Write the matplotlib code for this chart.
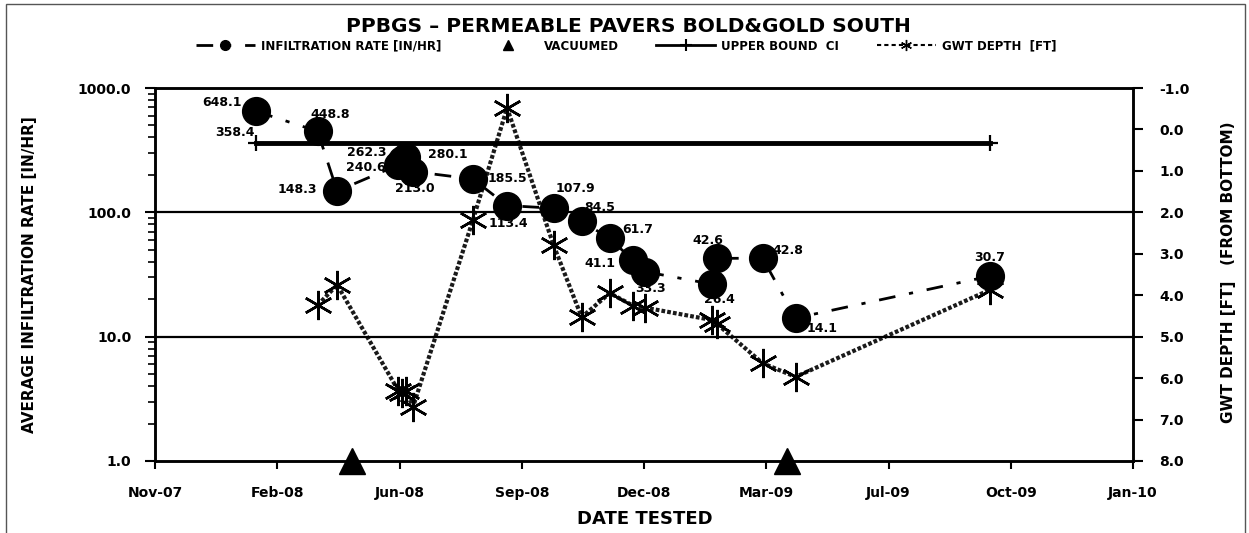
import numpy as np
import matplotlib
matplotlib.use("Agg")
import matplotlib.pyplot as plt
import matplotlib.dates as mdates
from matplotlib.lines import Line2D
from matplotlib.patches import Rectangle
from matplotlib.ticker import FixedLocator, FuncFormatter, LogLocator, NullFormatter

plt.rcParams['font.family'] = ['DejaVu Sans']
plt.rcParams['axes.unicode_minus'] = False

# ---------------- data ----------------
infil_dates = ["2008-02-05", "2008-03-26", "2008-04-11", "2008-05-31", "2008-06-03",
               "2008-06-06", "2008-06-12", "2008-07-31", "2008-08-28", "2008-10-05",
               "2008-10-28", "2008-11-20", "2008-12-09", "2008-12-19", "2009-02-12",
               "2009-02-16", "2009-03-25", "2009-04-21", "2009-09-27"]
infil_rate = [648.1, 448.8, 148.3, 240.6, 262.3, 280.1, 213.0, 185.5, 113.4, 107.9,
              84.5, 61.7, 41.1, 33.3, 26.4, 42.6, 42.8, 14.1, 30.7]
# data-label offsets (pixels) and alignment
lbl_dx = [-15, -7, -20, -13, -15, 22, -18, 15, -19, 2, 3, 12, -18, -10, -8, -25, 10, 11, 0]
lbl_dy = [9, 17, 2, -3, 8, 2, -17, 0, -18, 20, 14, 9, -3, -17, -15, 18, 8, -10, 19]
lbl_ha = ['right', 'left', 'right', 'right', 'right', 'left', 'left', 'left', 'left', 'left',
          'left', 'left', 'right', 'left', 'left', 'left', 'left', 'left', 'center']

gwt_dates = ["2008-03-26", "2008-04-11", "2008-05-31", "2008-06-03", "2008-06-06",
             "2008-06-12", "2008-07-31", "2008-08-28", "2008-10-05", "2008-10-28",
             "2008-11-20", "2008-12-09", "2008-12-19", "2009-02-12", "2009-02-16",
             "2009-03-25", "2009-04-21", "2009-09-27"]
gwt_depth = [4.24, 3.75, 6.3, 6.35, 6.3, 6.7, 2.19, -0.52, 2.79, 4.53,
             3.95, 4.25, 4.3, 4.6, 4.7, 5.64, 5.97, 3.87]

ub_dates = ["2008-02-05", "2009-09-27"]
ub_value = [358.4, 358.4]

vac_dates = ["2008-04-23", "2009-04-14"]
vac_value = [1.0, 1.0]

xtick_dates = ["2007-11-14", "2008-02-22", "2008-06-01", "2008-09-09", "2008-12-18",
               "2009-03-28", "2009-07-06", "2009-10-14", "2010-01-22"]
left_ticks = [1.0, 10.0, 100.0, 1000.0]
right_ticks = [-1, 0, 1, 2, 3, 4, 5, 6, 7, 8]

title = "PPBGS – PERMEABLE PAVERS BOLD&GOLD SOUTH"
legend_labels = ["INFILTRATION RATE [IN/HR]", "VACUUMED", "UPPER BOUND  CI", "GWT DEPTH  [FT]"]

# ---------------- figure ----------------
W, H = 1249, 533
fig = plt.figure(figsize=(W / 100, H / 100), dpi=100)
ax = fig.add_axes([155 / W, 1 - 461 / H, (1133 - 155) / W, (461 - 88) / H])

d = lambda s: mdates.date2num(np.array(s, dtype='datetime64[D]'))
xi, xg, xu, xv = d(infil_dates), d(gwt_dates), d(ub_dates), d(vac_dates)
xt = d(xtick_dates)

ax.set_yscale('log')
ax.set_ylim(1, 1000)
ax.set_xlim(xt[0], xt[-1])

for yv in [10, 100]:
    ax.axhline(yv, color='black', lw=1.6, zorder=1)

ax2 = ax.twinx()
ax2.set_ylim(8, -1)

# GWT line (secondary axis)
ax2.plot(xg, gwt_depth, color='#1a1a1a', lw=3.0, ls=(0, (0.9, 0.5)),
         marker=(6, 2, 0), ms=21, mew=1.8, mec='black', zorder=3)

# infiltration
ax.plot(xi, infil_rate, color='black', lw=2, ls=(0, (6, 5, 1.5, 5)),
        marker='o', ms=20, mfc='black', mec='black', zorder=4)
ax.plot(xu, ub_value, color='black', lw=3.5, marker='+', ms=12, mew=1.6, zorder=4)
ax.plot(xv, vac_value, ls='none', marker='^', ms=19, color='black', clip_on=False, zorder=6)

ax.set_zorder(ax2.get_zorder() + 1)
ax.patch.set_visible(False)

lab_font = dict(fontsize=9, fontweight='bold', color='black')
for x, y, dx, dy, ha in zip(xi, infil_rate, lbl_dx, lbl_dy, lbl_ha):
    ax.annotate(f"{y:.1f}", (x, y), xytext=(dx, dy), textcoords='offset pixels',
                ha=ha, va='center', zorder=7, **lab_font)
ax.annotate(f"{ub_value[0]:.1f}", (xu[0], ub_value[0]), xytext=(-2, 11),
            textcoords='offset pixels', ha='right', va='center', zorder=7, **lab_font)

# axes styling
ax.yaxis.set_major_locator(FixedLocator(left_ticks))
ax.yaxis.set_minor_locator(LogLocator(base=10, subs=np.arange(2, 10)))
ax.yaxis.set_minor_formatter(NullFormatter())
ax.yaxis.set_major_formatter(FuncFormatter(lambda v, p: f"{v:.1f}"))
ax.xaxis.set_major_locator(FixedLocator(xt))
ax.xaxis.set_major_formatter(mdates.DateFormatter('%b-%y'))
ax2.yaxis.set_major_locator(FixedLocator(right_ticks))
ax2.yaxis.set_major_formatter(FuncFormatter(lambda v, p: f"{v:.1f}"))

tick_font = 10
ax.tick_params(axis='y', which='major', direction='out', length=7, width=1.5,
               labelsize=tick_font, pad=10)
ax.tick_params(axis='y', which='minor', direction='out', length=5, width=1.2)
ax.tick_params(axis='x', direction='out', length=6, width=1.5, labelsize=tick_font, pad=12)
ax2.tick_params(axis='y', direction='out', length=7, width=1.5, labelsize=tick_font, pad=12)
for lbl in ax.get_xticklabels() + ax.get_yticklabels() + ax2.get_yticklabels():
    lbl.set_fontweight('bold')

for a in (ax, ax2):
    for s in a.spines.values():
        s.set_linewidth(1.8)
        s.set_color('black')

fig.text(645 / W, 1 - 519 / H, "DATE TESTED", ha='center', va='center',
         fontsize=13, fontweight='bold')
fig.text(30 / W, 1 - 275 / H, "AVERAGE INFILTRATION RATE [IN/HR]", ha='center', va='center',
         rotation=90, fontsize=11, fontweight='bold')
fig.text(1229 / W, 1 - 272 / H, "GWT DEPTH [FT]   (FROM BOTTOM)", ha='center', va='center',
         rotation=90, fontsize=11, fontweight='bold')

fig.text(628 / W, 1 - 27 / H, title, ha='center', va='center', fontsize=14.5, fontweight='bold')

handles = [
    Line2D([], [], color='black', lw=2, ls=(0, (6, 5, 1.5, 5)), marker='o', ms=7),
    Line2D([], [], ls='none', marker='^', ms=7, color='black'),
    Line2D([], [], color='black', lw=2, marker='+', ms=9, mew=1.5),
    Line2D([], [], color='black', lw=1.5, ls=(0, (2, 1.5)), marker=(6, 2, 0), ms=8, mew=1),
]
fig.legend(handles, legend_labels, loc='center', bbox_to_anchor=(626 / W, 1 - 46 / H),
           ncol=4, frameon=False, handlelength=5.0, handletextpad=0.5, columnspacing=3.2,
           prop=dict(size=8.5, weight='bold'))

fig.patches.append(Rectangle((6 / W, -0.05), (1245 - 6) / W, 1.05 - 4 / H,
                             transform=fig.transFigure, fill=False, ec='#555555', lw=1))

fig.savefig("out.png", dpi=100)
